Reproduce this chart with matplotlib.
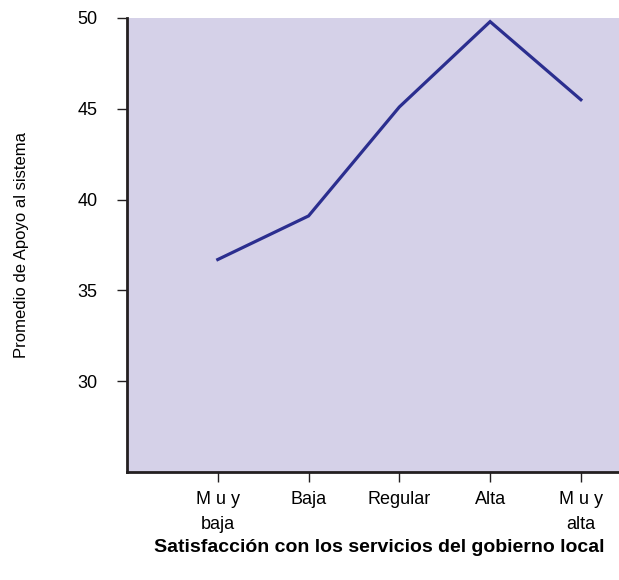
import matplotlib.pyplot as plt
from matplotlib import font_manager

# data
categories = ["M u y\nbaja", "Baja", "Regular", "Alta", "M u y\nalta"]
apoyo = [36.7, 39.1, 45.1, 49.8, 45.5]
yticks = [30, 35, 40, 45, 50]

# prefer a condensed face if present
names = {f.name for f in font_manager.fontManager.ttflist}
family = ["Liberation Sans Narrow", "DejaVu Sans"] if "Liberation Sans Narrow" in names else ["Liberation Sans", "DejaVu Sans"]
plt.rcParams["font.family"] = family

fig = plt.figure(figsize=(6.19, 5.80), dpi=100)
ax = fig.add_axes([127 / 619, 1 - 472 / 580, 1 - 127 / 619, (472 - 18) / 580])
ax.set_facecolor("#d5d1e8")

x = list(range(1, len(categories) + 1))
ax.plot(x, apoyo, color="#2b2e8f", linewidth=2.3, solid_joinstyle="miter")

ax.set_xlim(0, 5.42)
ax.set_ylim(25, 50)
ax.set_xticks(x)
ax.set_xticklabels(categories, fontsize=13, linespacing=1.55)
ax.set_yticks(yticks)
ax.set_yticklabels([str(t) for t in yticks], fontsize=13)

for side in ["top", "right"]:
    ax.spines[side].set_visible(False)
for side in ["left", "bottom"]:
    ax.spines[side].set_linewidth(2)
    ax.spines[side].set_color("#231f20")
ax.tick_params(axis="both", length=7, width=1, color="#231f20")
ax.tick_params(axis="x", pad=7)
ax.tick_params(axis="y", pad=14)

fig.text(22 / 619, 1 - 245 / 580, "Promedio de Apoyo al sistema", rotation=90,
         ha="center", va="center", fontsize=12)
fig.text(379 / 619, 1 - 547 / 580, "Satisfacción con los servicios del gobierno local",
         ha="center", va="center", fontsize=14, fontweight="bold")

fig.savefig("out.png", dpi=100)
